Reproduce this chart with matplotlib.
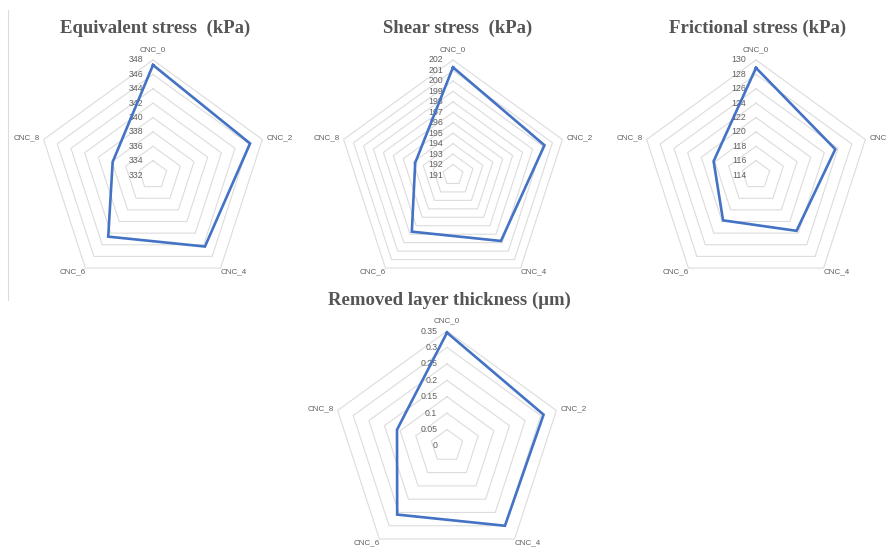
import matplotlib
matplotlib.use("Agg")
import matplotlib.pyplot as plt
import numpy as np
from matplotlib import transforms
from matplotlib.lines import Line2D

# spoke order of the radar charts
categories = ["CNC_0", "CNC_2", "CNC_4", "CNC_6", "CNC_8"]

equivalent_stress = [347.3, 346.2, 344.3, 342.6, 337.9]
shear_stress = [201.3, 200.2, 198.8, 197.7, 194.8]
frictional_stress = [128.9, 125.6, 123.6, 121.8, 120.2]
removed_thickness = [0.345, 0.309, 0.300, 0.258, 0.160]

equivalent_ticks = [332, 334, 336, 338, 340, 342, 344, 346, 348]
shear_ticks = [191, 192, 193, 194, 195, 196, 197, 198, 199, 200, 201, 202]
frictional_ticks = [114, 116, 118, 120, 122, 124, 126, 128, 130]
removed_ticks = [0, 0.05, 0.1, 0.15, 0.2, 0.25, 0.3, 0.35]
removed_tick_labels = ["0", "0.05", "0.1", "0.15", "0.2", "0.25", "0.3", "0.35"]

W, H = 887, 547
R = 115  # radar radius in pixels

LINE_BLUE = "#4472c4"
GRID_GREY = "#dcdcdc"
TEXT_GREY = "#606060"
TITLE_GREY = "#555555"


def radar(fig, center, title, title_pos, values, ticks, tick_labels):
    cx, cy = center
    ax = fig.add_axes([(cx - R) / W, 1 - (cy + R) / H, 2 * R / W, 2 * R / H],
                      projection="polar")
    ax.set_theta_zero_location("N")
    ax.set_theta_direction(-1)
    vmin, vmax = ticks[0], ticks[-1]
    ax.set_ylim(vmin, vmax)

    angles = np.linspace(0, 2 * np.pi, len(categories), endpoint=False)
    closed = np.append(angles, angles[0])

    # pentagon gridlines, one per tick above the centre value
    for level in ticks[1:]:
        ax.plot(closed, [level] * len(closed), color=GRID_GREY, lw=0.8,
                zorder=1, clip_on=False)

    ax.plot(closed, np.append(values, values[0]), color=LINE_BLUE, lw=1.9,
            zorder=3, clip_on=False, solid_joinstyle="miter")

    ax.grid(False)
    ax.set_xticks([])
    ax.set_yticks([])
    ax.spines["polar"].set_visible(False)
    ax.patch.set_visible(False)

    # value labels sit just left of the vertical spoke
    shifted = transforms.offset_copy(ax.transData, fig=fig, x=-7, y=0, units="points")
    for level, lab in zip(ticks, tick_labels):
        ax.text(0, level, lab, transform=shifted, ha="right", va="center",
                fontsize=6.3, color=TEXT_GREY, family="Liberation Sans", zorder=2)

    span = vmax - vmin
    spots = [(1.06, "center", "bottom"), (1.035, "left", "center"),
             (1.0, "left", "top"), (1.0, "right", "top"),
             (1.035, "right", "center")]
    for a, name, (f, ha, va) in zip(angles, categories, spots):
        ax.text(a, vmin + f * span, name, ha=ha, va=va, fontsize=5.8,
                color=TEXT_GREY, family="Liberation Sans")

    fig.text(title_pos[0] / W, 1 - title_pos[1] / H, title, ha="center",
             va="center", fontsize=13.5, fontweight="bold", color=TITLE_GREY,
             family="Liberation Serif")
    return ax


fig = plt.figure(figsize=(W / 100, H / 100), dpi=100)
fig.patch.set_facecolor("white")

radar(fig, (153, 175), "Equivalent stress  (kPa)", (155, 28),
      equivalent_stress, equivalent_ticks, [str(t) for t in equivalent_ticks])
radar(fig, (453, 175), "Shear stress  (kPa)", (458, 28),
      shear_stress, shear_ticks, [str(t) for t in shear_ticks])
radar(fig, (756, 175), "Frictional stress (kPa)", (758, 28),
      frictional_stress, frictional_ticks, [str(t) for t in frictional_ticks])
radar(fig, (447, 446), "Removed layer thickness (μm)", (449, 300),
      removed_thickness, removed_ticks, removed_tick_labels)

# thin frame edge on the left of the first panel
fig.add_artist(Line2D([8 / W, 8 / W], [1 - 10 / H, 1 - 300 / H],
                      color=GRID_GREY, lw=0.8))

fig.savefig("out.png", dpi=100, facecolor="white")
